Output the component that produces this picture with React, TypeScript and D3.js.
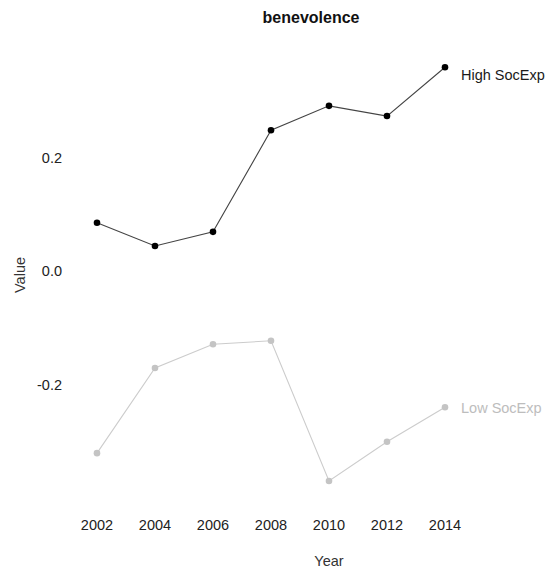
import React from "react";
import * as d3 from "d3";

const years = [2002, 2004, 2006, 2008, 2010, 2012, 2014];
const highValues = [0.085, 0.044, 0.069, 0.248, 0.291, 0.273, 0.359];
const lowValues = [-0.321, -0.171, -0.129, -0.123, -0.37, -0.301, -0.24];
const yTicks = [-0.2, 0.0, 0.2];
const seriesNames = ["High SocExp", "Low SocExp"];
const title = "benevolence";

const W = 552;
const H = 572;
const FONT = "'Liberation Sans', Arial, Helvetica, sans-serif";

export default function App() {
  const x = d3.scaleLinear().domain([2002, 2014]).range([97, 445]);
  const y = d3.scaleLinear().domain([0, 0.2]).range([271, 157.5]);
  const line = d3
    .line<number>()
    .x((_, i) => x(years[i]))
    .y((d) => y(d));
  const fmt = (t: number) => d3.format(".1f")(t).replace("\u2212", "-");

  const series = [
    { name: seriesNames[0], values: highValues, color: "#000000", lineColor: "#444444", text: "#1a1a1a", dy: 8 },
    { name: seriesNames[1], values: lowValues, color: "#c4c4c4", lineColor: "#cccccc", text: "#bdbdbd", dy: 1 },
  ];

  return (
    <svg
      width={W}
      height={H}
      style={{ position: "absolute", left: 0, top: 0, background: "#fff" }}
      fontFamily={FONT}
    >
      <text x={311} y={23} textAnchor="middle" fontWeight="bold" fontSize={16} fill="#111">
        {title}
      </text>
      {yTicks.map((t) => (
        <text key={t} x={62} y={y(t)} dy="0.36em" textAnchor="end" fontSize={14.5} fill="#222">
          {fmt(t)}
        </text>
      ))}
      {years.map((yr) => (
        <text key={yr} x={x(yr)} y={530} textAnchor="middle" fontSize={14.5} fill="#222">
          {yr}
        </text>
      ))}
      <text x={329} y={566} textAnchor="middle" fontSize={14.5} fill="#333">
        Year
      </text>
      <text
        transform={`translate(25,275) rotate(-90)`}
        textAnchor="middle"
        fontSize={14.5}
        fill="#333"
      >
        Value
      </text>
      {series.map((s) => (
        <g key={s.name}>
          <path d={line(s.values) || ""} fill="none" stroke={s.lineColor} strokeWidth={1.1} />
          {s.values.map((v, i) => (
            <circle key={i} cx={x(years[i])} cy={y(v)} r={3.3} fill={s.color} />
          ))}
          <text
            x={x(years[years.length - 1]) + 16}
            y={y(s.values[s.values.length - 1]) + s.dy}
            dy="0.36em"
            fontSize={14.5}
            fill={s.text}
          >
            {s.name}
          </text>
        </g>
      ))}
    </svg>
  );
}
